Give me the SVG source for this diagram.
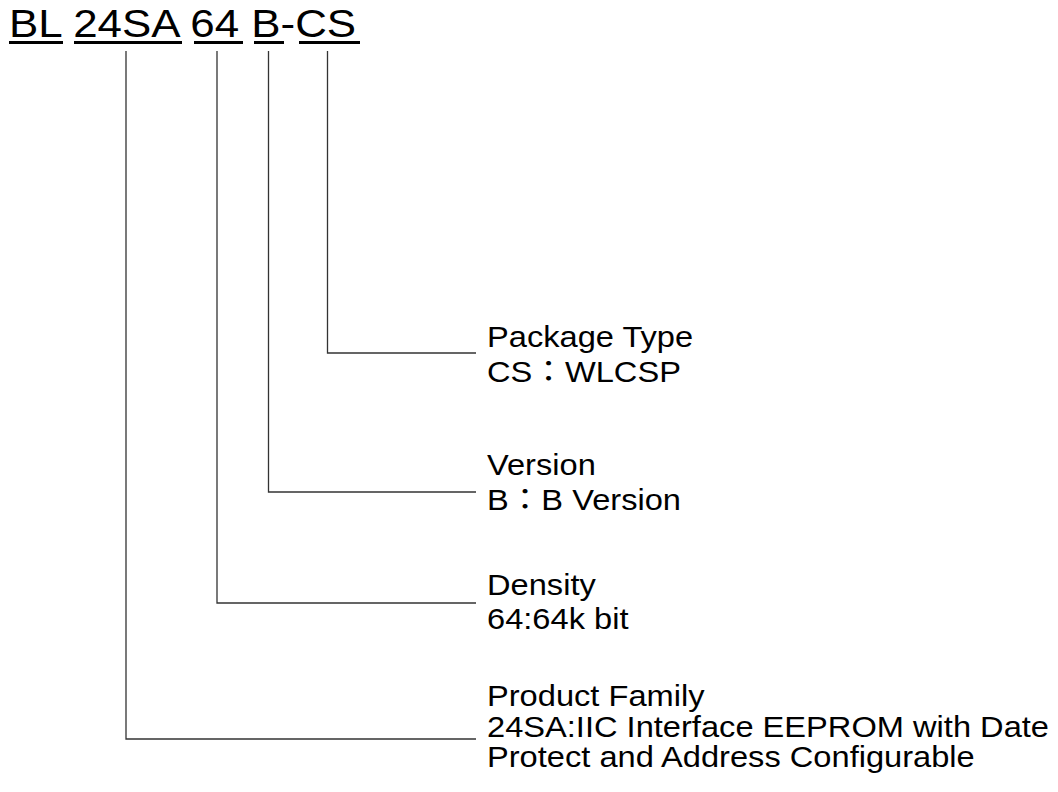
<svg xmlns="http://www.w3.org/2000/svg" width="1058" height="792" viewBox="0 0 1058 792">
<style>
.t{font-family:"Liberation Sans","Noto Sans CJK JP",sans-serif;fill:#000}
.title{font-size:38.5px}
.lbl{font-size:29px}
.c{fill:none;stroke:#333;stroke-width:1.3}
</style>
<rect width="1058" height="792" fill="#fff"/>
<g id="title">
<text class="t title" transform="translate(9,36.5) scale(1.14,1)" x="0" y="0">BL 24SA 64 B-CS</text>
<rect x="9" y="41" width="54" height="3"/>
<rect x="74" y="41" width="108" height="3"/>
<rect x="194" y="41" width="49" height="3"/>
<rect x="254" y="41" width="30" height="3"/>
<rect x="299" y="41" width="61" height="3"/>
</g>
<g id="connectors">
<polyline class="c" points="327.5,51 327.5,353 476,353"/>
<polyline class="c" points="268.5,51 268.5,492 476,492"/>
<polyline class="c" points="217,51 217,603 476,603"/>
<polyline class="c" points="126,51 126,739 476,739"/>
</g>
<g id="package">
<text class="t lbl" transform="translate(487,347) scale(1.125,1)"><tspan x="0" y="0">Package Type</tspan><tspan x="0" y="35">CS：WLCSP</tspan></text>
</g>
<g id="version">
<text class="t lbl" transform="translate(487,475) scale(1.125,1)"><tspan x="0" y="0">Version</tspan><tspan x="0" y="35">B：B Version</tspan></text>
</g>
<g id="density">
<text class="t lbl" transform="translate(487,595) scale(1.125,1)"><tspan x="0" y="0">Density</tspan><tspan x="0" y="34">64:64k bit</tspan></text>
</g>
<g id="family">
<text class="t lbl" transform="translate(487,706) scale(1.125,1)"><tspan x="0" y="0">Product Family</tspan><tspan x="0" y="31">24SA:IIC Interface EEPROM with Date</tspan><tspan x="0" y="61">Protect and Address Configurable</tspan></text>
</g>
</svg>
